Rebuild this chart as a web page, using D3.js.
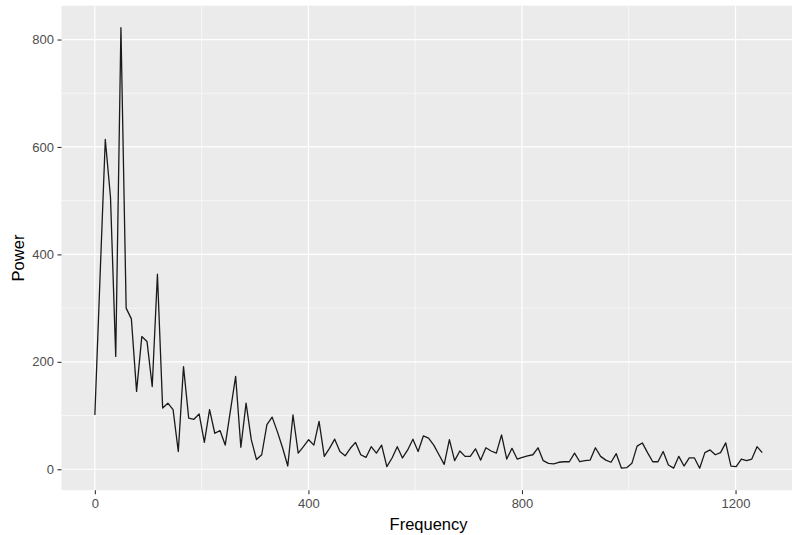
<!DOCTYPE html>
<html>
<head>
<meta charset="utf-8">
<script src="https://cdn.jsdelivr.net/npm/d3@7"></script>
<style>
  body { margin: 0; background: #ffffff; }
  svg { display: block; font-family: "Liberation Sans", Arial, sans-serif; }
</style>
</head>
<body>
<svg id="chart" width="792" height="535"></svg>
<script>
// frequency bins (Hz)
const frequency = [0, 9.77, 19.53, 29.3, 39.06, 48.83, 58.59, 68.36, 78.13, 87.89,
  97.66, 107.42, 117.19, 126.95, 136.72, 146.48, 156.25, 166.02, 175.78, 185.55,
  195.31, 205.08, 214.84, 224.61, 234.38, 244.14, 253.91, 263.67, 273.44, 283.2,
  292.97, 302.73, 312.5, 322.27, 332.03, 341.8, 351.56, 361.33, 371.09, 380.86,
  390.63, 400.39, 410.16, 419.92, 429.69, 439.45, 449.22, 458.98, 468.75, 478.52,
  488.28, 498.05, 507.81, 517.58, 527.34, 537.11, 546.88, 556.64, 566.41, 576.17,
  585.94, 595.7, 605.47, 615.23, 625, 634.77, 644.53, 654.3, 664.06, 673.83,
  683.59, 693.36, 703.13, 712.89, 722.66, 732.42, 742.19, 751.95, 761.72, 771.48,
  781.25, 791.02, 800.78, 810.55, 820.31, 830.08, 839.84, 849.61, 859.38, 869.14,
  878.91, 888.67, 898.44, 908.2, 917.97, 927.73, 937.5, 947.27, 957.03, 966.8,
  976.56, 986.33, 996.09, 1005.86, 1015.63, 1025.39, 1035.16, 1044.92, 1054.69, 1064.45,
  1074.22, 1083.98, 1093.75, 1103.52, 1113.28, 1123.05, 1132.81, 1142.58, 1152.34, 1162.11,
  1171.88, 1181.64, 1191.41, 1201.17, 1210.94, 1220.7, 1230.47, 1240.23, 1250];

// power at each bin
const power = [101, 360, 614, 506, 210, 822, 300, 280, 145, 247,
  238, 154, 363, 114, 123, 111, 33, 191, 95, 93,
  103, 50, 111, 67, 72, 45, 109, 173, 41, 123,
  55, 18, 27, 83, 97, 70, 40, 6, 101, 30,
  42, 55, 45, 89, 24, 39, 56, 33, 25, 39,
  50, 27, 22, 42, 30, 45, 5, 21, 42, 21,
  36, 56, 33, 62, 58, 45, 27, 9, 55, 16,
  34, 24, 24, 38, 17, 40, 34, 30, 64, 19,
  39, 19, 22, 25, 27, 40, 16, 11, 10, 13,
  14, 14, 30, 14, 16, 17, 40, 24, 17, 13,
  29, 2, 3, 11, 43, 49, 31, 14, 14, 33,
  8, 2, 24, 6, 21, 21, 2, 31, 36, 27,
  31, 49, 6, 5, 19, 16, 19, 42, 31];

const xMajor = [0, 400, 800, 1200];
const xMinor = [200, 600, 1000];
const yMajor = [0, 200, 400, 600, 800];
const yMinor = [100, 300, 500, 700];

const data = frequency.map((f, i) => ({ f: f, p: power[i] }));

// panel box (the right edge runs past the window like in the picture)
const panelLeft = 61.5, panelRight = 795.6, panelTop = 5.7, panelBottom = 490.2;

const svg = d3.select("#chart");

// ggplot style 5% expansion
const xExt = d3.extent(frequency);
const yExt = d3.extent(power);
const xPad = (xExt[1] - xExt[0]) * 0.05;
const yPad = (yExt[1] - yExt[0]) * 0.05;

const x = d3.scaleLinear().domain([xExt[0] - xPad, xExt[1] + xPad]).range([panelLeft, panelRight]);
const y = d3.scaleLinear().domain([yExt[0] - yPad, yExt[1] + yPad]).range([panelBottom, panelTop]);

// panel background
svg.append("rect")
  .attr("x", panelLeft)
  .attr("y", panelTop)
  .attr("width", panelRight - panelLeft)
  .attr("height", panelBottom - panelTop)
  .attr("fill", "#EBEBEB");

// minor grid
svg.append("g").selectAll("line")
  .data(xMinor)
  .enter().append("line")
  .attr("x1", d => x(d)).attr("x2", d => x(d))
  .attr("y1", panelTop).attr("y2", panelBottom)
  .attr("stroke", "#ffffff").attr("stroke-width", 0.6);

svg.append("g").selectAll("line")
  .data(yMinor)
  .enter().append("line")
  .attr("x1", panelLeft).attr("x2", panelRight)
  .attr("y1", d => y(d)).attr("y2", d => y(d))
  .attr("stroke", "#ffffff").attr("stroke-width", 0.6);

// major grid
svg.append("g").selectAll("line")
  .data(xMajor)
  .enter().append("line")
  .attr("x1", d => x(d)).attr("x2", d => x(d))
  .attr("y1", panelTop).attr("y2", panelBottom)
  .attr("stroke", "#ffffff").attr("stroke-width", 1.2);

svg.append("g").selectAll("line")
  .data(yMajor)
  .enter().append("line")
  .attr("x1", panelLeft).attr("x2", panelRight)
  .attr("y1", d => y(d)).attr("y2", d => y(d))
  .attr("stroke", "#ffffff").attr("stroke-width", 1.2);

// the spectrum line
const line = d3.line()
  .x(d => x(d.f))
  .y(d => y(d.p));

svg.append("path")
  .datum(data)
  .attr("d", line)
  .attr("fill", "none")
  .attr("stroke", "#1a1a1a")
  .attr("stroke-width", 1.3)
  .attr("stroke-linejoin", "round");

// axes
const xAxis = svg.append("g")
  .attr("transform", `translate(0,${panelBottom})`)
  .call(d3.axisBottom(x).tickValues(xMajor).tickFormat(d3.format("d")).tickSize(4).tickPadding(5));

const yAxis = svg.append("g")
  .attr("transform", `translate(${panelLeft},0)`)
  .call(d3.axisLeft(y).tickValues(yMajor).tickFormat(d3.format("d")).tickSize(4).tickPadding(3.5));

[xAxis, yAxis].forEach(g => {
  g.select(".domain").remove();
  g.selectAll(".tick line").attr("stroke", "#333333").attr("stroke-width", 1.1);
  g.selectAll(".tick text")
    .attr("fill", "#4D4D4D")
    .attr("font-size", "13px")
    .attr("font-family", "Liberation Sans, Arial, sans-serif");
});

// axis titles
svg.append("text")
  .attr("x", (panelLeft + panelRight) / 2)
  .attr("y", 530)
  .attr("text-anchor", "middle")
  .attr("font-size", "16.5px")
  .attr("fill", "#000000")
  .text("Frequency");

svg.append("text")
  .attr("transform", "translate(24,258) rotate(-90)")
  .attr("text-anchor", "middle")
  .attr("font-size", "16.5px")
  .attr("fill", "#000000")
  .text("Power");
</script>
</body>
</html>
